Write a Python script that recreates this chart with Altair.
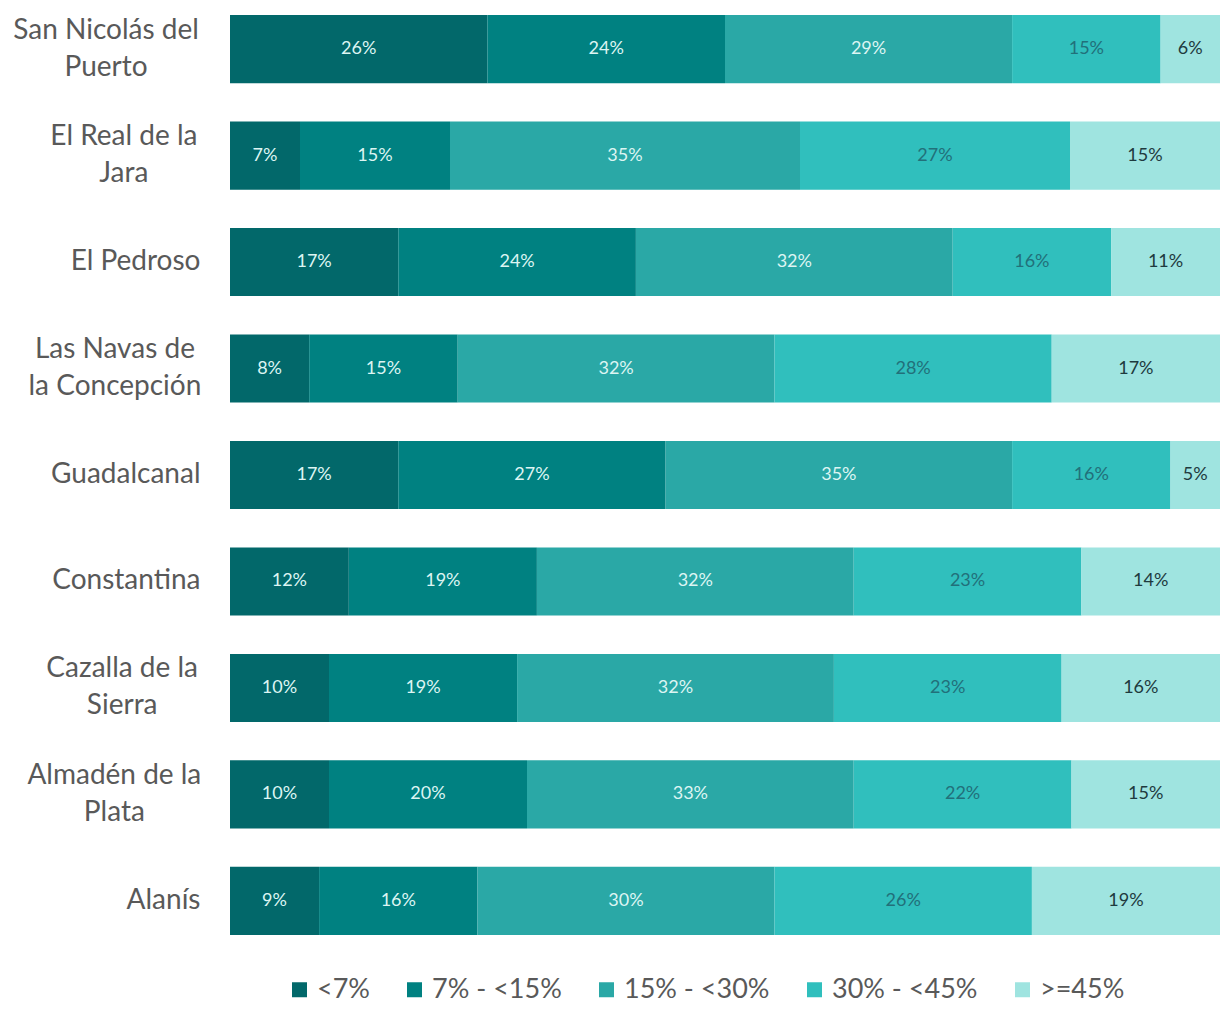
import altair as alt
import pandas as pd

# Municipalities (top to bottom) as axis tick labels ("|" marks a line break)
etiquetas = ["San Nicolás del|Puerto", "El Real de la|Jara", "El Pedroso",
             "Las Navas de|la Concepción", "Guadalcanal", "Constantina",
             "Cazalla de la|Sierra", "Almadén de la|Plata", "Alanís"]

rangos = ["<7%", "7% - <15%", "15% - <30%", "30% - <45%", ">=45%"]

v_lt7 = [26, 7, 17, 8, 17, 12, 10, 10, 9]
v_7_15 = [24, 15, 24, 15, 27, 19, 19, 20, 16]
v_15_30 = [29, 35, 32, 32, 35, 32, 32, 33, 30]
v_30_45 = [15, 27, 16, 28, 16, 23, 23, 22, 26]
v_ge45 = [6, 15, 11, 17, 5, 14, 16, 15, 19]

series = [v_lt7, v_7_15, v_15_30, v_30_45, v_ge45]

bar_colors = ["#02686A", "#008181", "#2AA8A6", "#30BFBD", "#9FE4E0"]
text_colors = ["#DDF5F3", "#DDF5F3", "#DDF5F3", "#22707A", "#1E3A3E"]

rows = []
for i, et in enumerate(etiquetas):
    for j, r in enumerate(rangos):
        rows.append({"etiqueta": et, "rango": r, "orden": j, "valor": series[j][i]})
df = pd.DataFrame(rows)

FONT = "Lato"
LABEL_SIZE = 28
BASE_PAD = 30


def text_em(s):
    """Rough text width in em, to center two-line labels as a block."""
    w = 0.0
    for c in s:
        if c == " ":
            w += 0.26
        elif c in "iljíI'.,:":
            w += 0.24
        elif c in "mwMW":
            w += 0.8
        elif c.isupper():
            w += 0.64
        else:
            w += 0.51
    return w


pad_conditions = []
for et in etiquetas:
    if "|" in et:
        longest = max(text_em(part) for part in et.split("|"))
        pad_conditions.append({"test": f"datum.value == '{et}'",
                               "value": BASE_PAD + 2 + longest * LABEL_SIZE / 2})

is_ml = "indexof(datum.value, '|') >= 0"

base = (
    alt.Chart(df)
    .transform_stack(stack="valor", groupby=["etiqueta"], as_=["x0", "x1"],
                     sort=[alt.SortField("orden")], offset="normalize")
    .transform_calculate(mid="(datum.x0 + datum.x1) / 2", txt="datum.valor + '%'")
)

y_enc = alt.Y(
    "etiqueta:N", sort=etiquetas,
    scale=alt.Scale(paddingInner=0.36, paddingOuter=0.066),
    axis=alt.Axis(
        title=None, ticks=False, domain=False, labelExpr="split(datum.value, '|')",
        labelFont=FONT, labelFontSize=LABEL_SIZE, labelColor="#595959",
        labelLineHeight=37, labelLimit=0,
        labelPadding={"condition": pad_conditions, "value": BASE_PAD},
        labelAlign={"condition": {"test": is_ml, "value": "center"}, "value": "right"},
        labelOffset={"condition": {"test": is_ml, "value": -18.5}, "value": 0},
    ),
)

bars = base.mark_bar().encode(
    y=y_enc,
    x=alt.X("x0:Q", scale=alt.Scale(domain=[0, 1], nice=False), axis=None),
    x2="x1:Q",
    color=alt.Color(
        "rango:N",
        scale=alt.Scale(domain=rangos, range=bar_colors),
        legend=alt.Legend(
            title=None, orient="none", legendX=56, legendY=968, direction="horizontal",
            columns=5, symbolType="square", symbolSize=225, symbolStrokeWidth=0,
            labelFont=FONT, labelFontSize=27, labelColor="#595959",
            columnPadding=31, labelOffset=4,
        ),
    ),
)

labels = base.mark_text(font=FONT, fontSize=18).encode(
    y=alt.Y("etiqueta:N", sort=etiquetas),
    x=alt.X("mid:Q"),
    text="txt:N",
    color=alt.Color("rango:N", scale=alt.Scale(domain=rangos, range=text_colors), legend=None),
)

chart = (
    alt.layer(bars, labels)
    .resolve_scale(color="independent")
    .properties(
        width=990, height=934,
        padding={"left": 222, "top": 0, "right": 0, "bottom": 62},
        autosize=alt.AutoSizeParams(type="none"),
    )
    .configure_view(stroke=None)
)

chart.save("out.html", embed_options={"renderer": "svg", "actions": False})
